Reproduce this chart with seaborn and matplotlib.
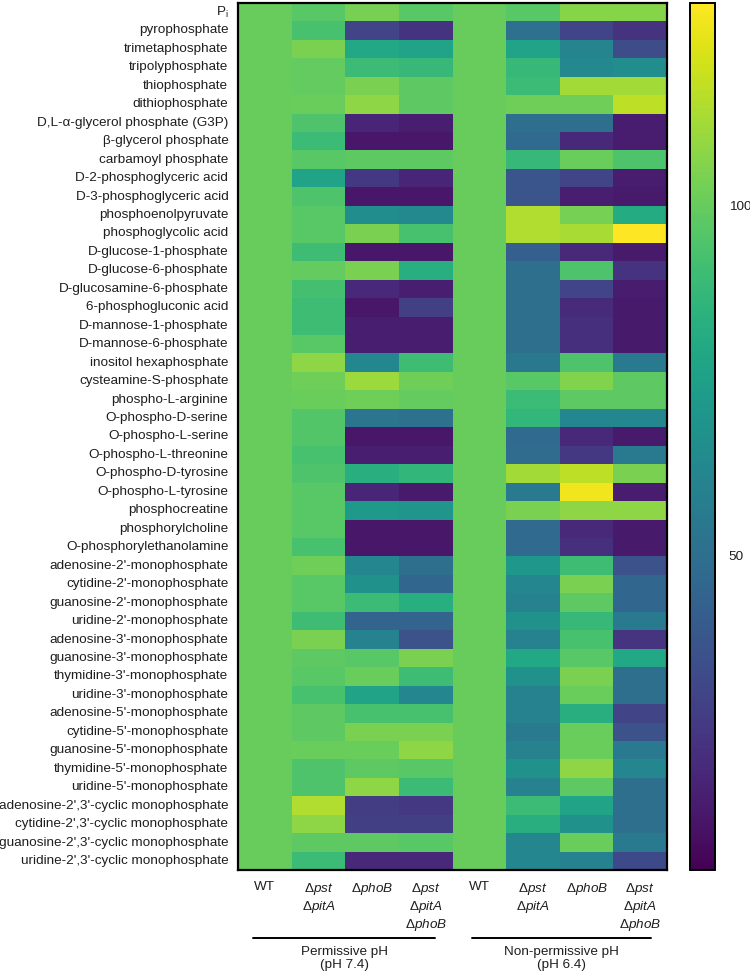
import numpy as np
import pandas as pd
import seaborn as sns
import matplotlib.pyplot as plt
from matplotlib.lines import Line2D
from matplotlib.transforms import blended_transform_factory

compounds = [
    r"P$_\mathregular{i}$", "pyrophosphate", "trimetaphosphate", "tripolyphosphate",
    "thiophosphate", "dithiophosphate", "D,L-α-glycerol phosphate (G3P)",
    "β-glycerol phosphate", "carbamoyl phosphate", "D-2-phosphoglyceric acid",
    "D-3-phosphoglyceric acid", "phosphoenolpyruvate", "phosphoglycolic acid",
    "D-glucose-1-phosphate", "D-glucose-6-phosphate", "D-glucosamine-6-phosphate",
    "6-phosphogluconic acid", "D-mannose-1-phosphate", "D-mannose-6-phosphate",
    "inositol hexaphosphate", "cysteamine-S-phosphate", "phospho-L-arginine",
    "O-phospho-D-serine", "O-phospho-L-serine", "O-phospho-L-threonine",
    "O-phospho-D-tyrosine", "O-phospho-L-tyrosine", "phosphocreatine",
    "phosphorylcholine", "O-phosphorylethanolamine",
    "adenosine-2'-monophosphate", "cytidine-2'-monophosphate",
    "guanosine-2'-monophosphate", "uridine-2'-monophosphate",
    "adenosine-3'-monophosphate", "guanosine-3'-monophosphate",
    "thymidine-3'-monophosphate", "uridine-3'-monophosphate",
    "adenosine-5'-monophosphate", "cytidine-5'-monophosphate",
    "guanosine-5'-monophosphate", "thymidine-5'-monophosphate",
    "uridine-5'-monophosphate", "adenosine-2',3'-cyclic monophosphate",
    "cytidine-2',3'-cyclic monophosphate", "guanosine-2',3'-cyclic monophosphate",
    "uridine-2',3'-cyclic monophosphate",
]

strain_labels = [
    "WT",
    r"$\Delta\mathit{pst}$" + "\n" + r"$\Delta\mathit{pitA}$",
    r"$\Delta\mathit{phoB}$",
    r"$\Delta\mathit{pst}$" + "\n" + r"$\Delta\mathit{pitA}$" + "\n" + r"$\Delta\mathit{phoB}$",
    "WT",
    r"$\Delta\mathit{pst}$" + "\n" + r"$\Delta\mathit{pitA}$",
    r"$\Delta\mathit{phoB}$",
    r"$\Delta\mathit{pst}$" + "\n" + r"$\Delta\mathit{pitA}$" + "\n" + r"$\Delta\mathit{phoB}$",
]
condition_labels = ["Permissive pH\n(pH 7.4)", "Non-permissive pH\n(pH 6.4)"]
cbar_ticks = [50, 100]

wt_74 = [100, 100, 100, 100, 100, 100, 100, 100, 100, 100, 100, 100, 100, 100, 100, 100,
         100, 100, 100, 100, 100, 100, 100, 100, 100, 100, 100, 100, 100, 100, 100, 100,
         100, 100, 100, 100, 100, 100, 100, 100, 100, 100, 100, 100, 100, 100, 100]
pst_pitA_74 = [96.8, 93.0, 104.2, 99.2, 99.2, 100.5, 94.3, 89.3, 96.8, 76.9, 94.3, 96.8,
               96.8, 90.6, 99.2, 91.8, 90.6, 90.6, 96.8, 107.9, 101.7, 100.5, 95.5, 95.5,
               93.0, 94.3, 96.8, 96.8, 96.8, 93.0, 101.7, 96.8, 96.8, 90.6, 104.2, 98.0,
               96.8, 93.0, 98.0, 98.0, 100.5, 94.3, 94.3, 114.1, 107.9, 98.0, 89.3]
phoB_74 = [103.0, 29.8, 79.4, 89.3, 104.2, 107.9, 18.0, 12.5, 98.0, 25.0, 12.5, 65.8,
           104.2, 12.5, 104.2, 19.0, 12.5, 15.5, 15.5, 62.0, 110.4, 101.7, 53.4, 12.5,
           15.5, 83.1, 18.0, 72.0, 12.5, 12.5, 62.0, 67.0, 89.3, 44.7, 59.6, 96.8,
           100.5, 76.9, 93.0, 104.2, 100.5, 98.0, 107.9, 27.0, 28.0, 98.0, 19.0]
triple_74 = [96.8, 23.0, 76.9, 88.1, 98.0, 98.0, 15.5, 12.5, 98.0, 18.0, 12.5, 63.3,
             93.0, 12.5, 83.1, 15.5, 28.0, 14.5, 14.5, 90.6, 101.7, 99.2, 50.9, 12.5,
             15.5, 86.8, 13.5, 69.5, 12.5, 12.5, 49.6, 45.9, 83.1, 44.7, 36.0, 104.2,
             90.6, 62.0, 93.0, 104.2, 107.9, 96.8, 89.3, 25.0, 28.0, 96.8, 19.0]
wt_64 = [100, 100, 100, 100, 100, 100, 100, 100, 100, 100, 100, 100, 100, 100, 100, 100,
         100, 100, 100, 100, 100, 100, 100, 100, 100, 100, 100, 100, 100, 100, 100, 100,
         100, 100, 100, 100, 100, 100, 100, 100, 100, 100, 100, 100, 100, 100, 100]
pst_pitA_64 = [96.8, 50.9, 76.9, 88.1, 89.3, 101.7, 49.6, 47.2, 88.1, 37.2, 37.2, 114.1,
               114.1, 42.2, 49.6, 49.6, 49.6, 49.6, 49.6, 54.6, 96.8, 89.3, 86.8, 47.2,
               48.4, 111.6, 55.8, 104.2, 47.2, 47.2, 70.7, 62.0, 59.6, 67.0, 59.6, 79.4,
               67.0, 59.6, 59.6, 55.8, 59.6, 67.0, 59.6, 89.3, 83.1, 62.0, 62.0]
phoB_64 = [106.7, 29.8, 60.8, 63.3, 111.6, 101.7, 49.6, 19.0, 100.5, 29.8, 15.5, 103.0,
           112.9, 19.0, 94.3, 30.0, 20.0, 22.0, 22.0, 94.3, 105.4, 98.0, 62.0, 19.0,
           25.0, 116.6, 126.5, 107.9, 19.0, 22.0, 90.6, 104.2, 98.0, 88.1, 93.0, 96.8,
           104.2, 100.5, 83.1, 100.5, 100.5, 107.9, 98.0, 76.9, 67.0, 100.5, 59.6]
triple_64 = [106.7, 23.0, 33.5, 65.8, 111.6, 116.6, 14.5, 14.5, 94.3, 14.5, 13.5, 80.6,
             129.0, 13.5, 23.0, 14.5, 13.5, 13.5, 13.5, 55.8, 98.0, 98.0, 62.0, 13.5,
             55.8, 104.2, 14.5, 107.9, 13.5, 13.5, 36.0, 45.9, 45.9, 55.8, 23.6, 79.4,
             49.6, 49.6, 29.8, 36.0, 55.8, 62.0, 49.6, 49.6, 49.6, 55.8, 32.3]

columns = ["wt_74", "pst_pitA_74", "phoB_74", "triple_74",
           "wt_64", "pst_pitA_64", "phoB_64", "triple_64"]
df = pd.DataFrame(
    np.column_stack([wt_74, pst_pitA_74, phoB_74, triple_74,
                     wt_64, pst_pitA_64, phoB_64, triple_64]),
    index=compounds, columns=columns)

sns.set_theme(style="white")
plt.rcParams['font.family'] = ['Liberation Sans', 'DejaVu Sans']
plt.rcParams['mathtext.fontset'] = 'custom'
plt.rcParams['mathtext.rm'] = 'Liberation Sans'
plt.rcParams['mathtext.it'] = 'Liberation Sans:italic'
plt.rcParams['mathtext.bf'] = 'Liberation Sans:bold'

W, H = 750, 975
fig = plt.figure(figsize=(W / 100, H / 100), dpi=100)
top, bot = 2.8, 870.2
ax = fig.add_axes([238 / W, 1 - bot / H, (667 - 238) / W, (bot - top) / H])
cax = fig.add_axes([690 / W, 1 - bot / H, 25 / W, (bot - top) / H])

sns.heatmap(df, ax=ax, cbar_ax=cax, cmap="viridis", vmin=5, vmax=129,
            cbar_kws={"ticks": cbar_ticks})

fs = 9.7
ax.set_yticklabels(compounds, rotation=0, fontsize=fs, color="#1e1e1e")
ax.set_xticklabels(strain_labels, rotation=0, fontsize=fs, color="#1e1e1e",
                   va="top", ha="center", linespacing=1.15)
ax.tick_params(axis="y", length=0, pad=7)
ax.tick_params(axis="x", length=0, pad=8)
ax.set_xlabel("")
ax.set_ylabel("")
for sp in ax.spines.values():
    sp.set_visible(True)
    sp.set_linewidth(1.6)
    sp.set_color("black")

cbar = ax.collections[0].colorbar
cbar.outline.set_linewidth(1.4)
cbar.outline.set_edgecolor("black")
cax.tick_params(axis="y", which="both", direction="in", length=4, width=0.9,
                left=True, right=True, labelleft=False, labelright=True,
                labelsize=fs, pad=10, colors="black")
for t in cax.get_yticklabels():
    t.set_color("#1e1e1e")

trans = blended_transform_factory(ax.transData, fig.transFigure)
line_y = 1 - 938 / H
for (x0, x1), label, xc in zip([(0.28, 3.68), (4.37, 7.70)], condition_labels, [1.98, 6.03]):
    ax.add_line(Line2D([x0, x1], [line_y, line_y], transform=trans, color="black",
                       linewidth=1.4, clip_on=False))
    ax.text(xc, 1 - 958.5 / H, label, transform=trans, ha="center", va="center",
            fontsize=fs, color="#1e1e1e", linespacing=1.2)

fig.savefig("out.png", dpi=100)
